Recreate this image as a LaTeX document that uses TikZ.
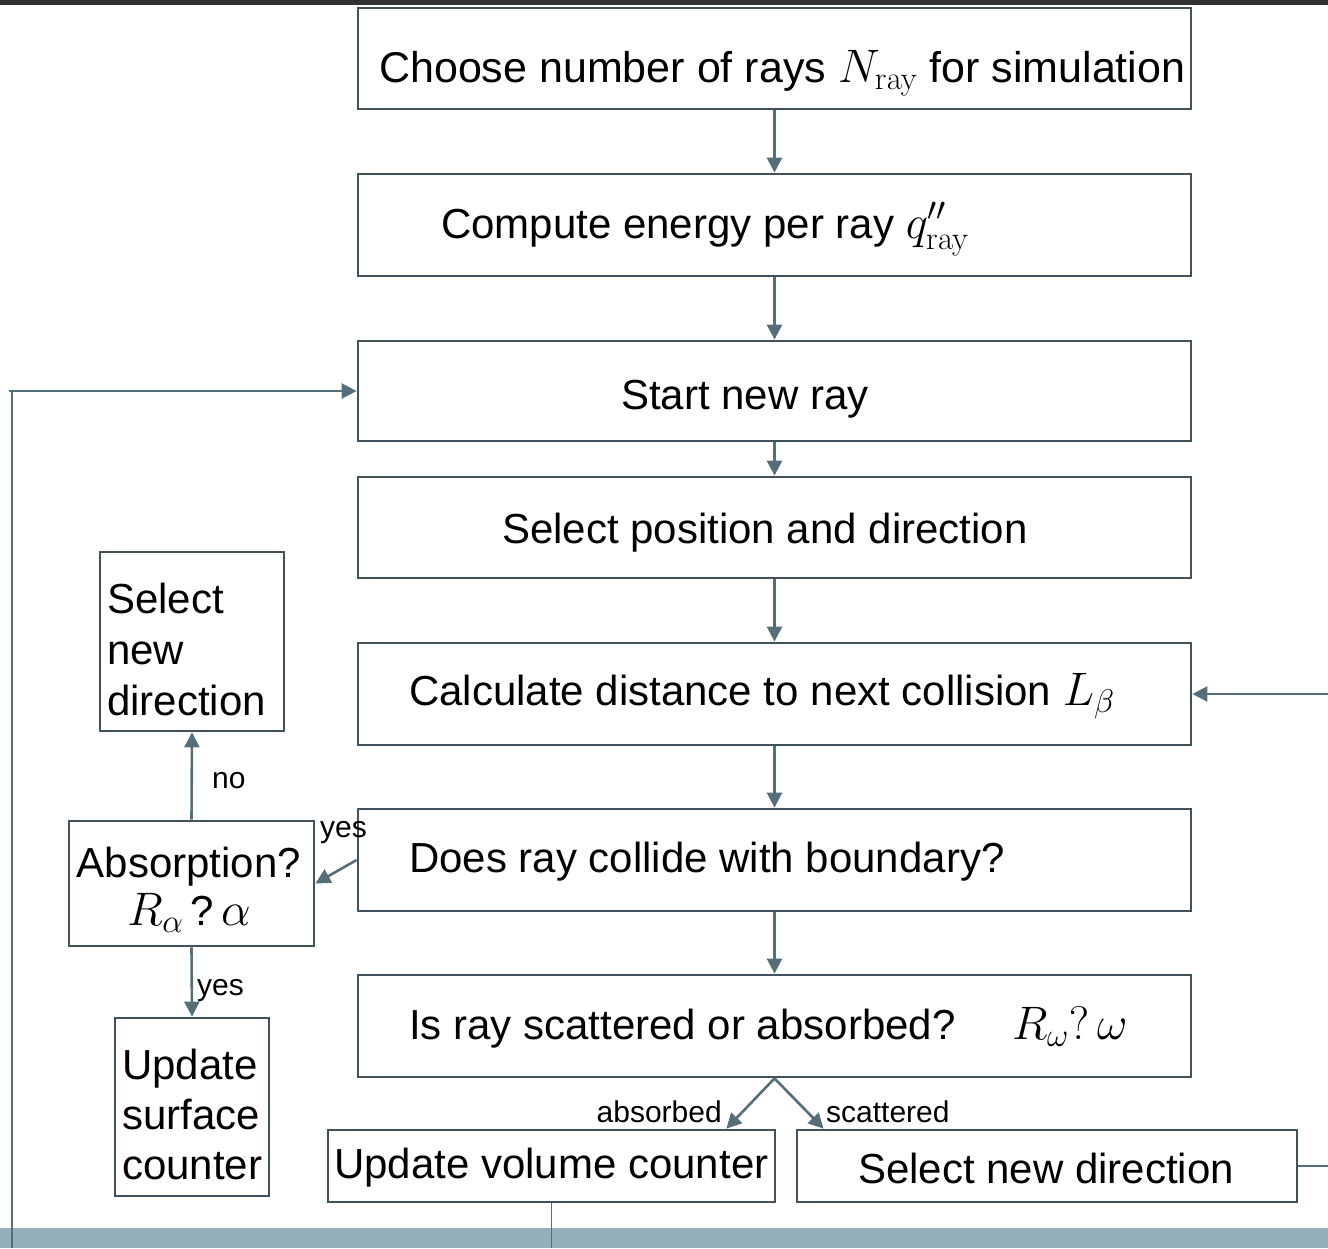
\RequirePackage{fix-cm}
\documentclass[tikz,border=0pt]{standalone}
\usepackage[no-math]{fontspec}
\setmainfont{Liberation Sans}
\usetikzlibrary{arrows.meta}
\definecolor{boxc}{RGB}{66,82,92}
\definecolor{arrc}{RGB}{84,110,122}
\definecolor{bandc}{RGB}{148,174,188}
\definecolor{topc}{RGB}{50,50,50}
\newcommand{\bigmath}[1]{{\fontsize{47}{51}\selectfont$#1$}}
\begin{document}
\begin{tikzpicture}[x=1pt,y=-1pt,
  box/.style={draw=boxc, line width=2.8pt, inner sep=0pt},
  txt/.style={anchor=base west, inner sep=0pt, font=\fontsize{42}{51}\selectfont},
  lbl/.style={anchor=base west, inner sep=0pt, font=\fontsize{30}{36}\selectfont},
  wire/.style={draw=arrc, line width=2.6pt},
  conn/.style={wire, -{Triangle[length=15pt,width=15pt]}},
  ]
\useasboundingbox (0,0) rectangle (1328,1248);
\fill[topc] (0,0) rectangle (1328,4.5);
\fill[bandc] (0,1228) rectangle (1328,1248);

% main column boxes
\node[box, minimum width=833pt, minimum height=101pt] (b1) at (774.5,58.5) {};
\node[box, minimum width=833pt, minimum height=102pt] (b2) at (774.5,225) {};
\node[box, minimum width=833pt, minimum height=100pt] (b3) at (774.5,391) {};
\node[box, minimum width=833pt, minimum height=101pt] (b4) at (774.5,527.5) {};
\node[box, minimum width=833pt, minimum height=102pt] (b5) at (774.5,694) {};
\node[box, minimum width=833pt, minimum height=102pt] (b6) at (774.5,860) {};
\node[box, minimum width=833pt, minimum height=102pt] (b7) at (774.5,1026) {};
\node[box, minimum width=447pt, minimum height=72pt] (b8) at (551.5,1166) {};
\node[box, minimum width=500pt, minimum height=72pt] (b9) at (1047,1166) {};
% left column boxes
\node[box, minimum width=184pt, minimum height=179pt] (b10) at (192,641.5) {};
\node[box, minimum width=245pt, minimum height=125pt] (b11) at (191.5,883.5) {};
\node[box, minimum width=154pt, minimum height=178pt] (b12) at (192,1107) {};

% texts
\node[txt, font=\fontsize{43}{51}\selectfont] at (379,82) {Choose number of rays \bigmath{N_{\mathrm{ray}}} for simulation};
\node[txt] at (441,238) {Compute energy per ray \bigmath{q''_{\mathrm{ray}}}};
\node[txt] at (621,409) {Start new ray};
\node[txt] at (502,543) {Select position and direction};
\node[txt] at (409,705) {Calculate distance to next collision \bigmath{L_\beta}};
\node[txt] at (409,872) {Does ray collide with boundary?};
\node[txt] at (409,1039) {\makebox[603pt][l]{Is ray scattered or absorbed?}\bigmath{R_\omega?\,\omega}};
\node[txt] at (334,1178) {Update volume counter};
\node[txt] at (858,1183) {Select new direction};
\node[txt, anchor=north west, align=left] at (107,583) {Select\\new\\direction};
\node[txt, anchor=north, align=center, font=\fontsize{42}{48}\selectfont] at (189,847) {Absorption?\\\bigmath{R_\alpha}\,?\,\bigmath{\alpha}};
\node[txt, anchor=north west, align=left, font=\fontsize{42}{50}\selectfont] at (122,1049) {Update\\surface\\counter};

% connectors
\draw[conn] (b1) -- (b2);
\draw[conn] (b2) -- (b3);
\draw[conn] (b3) -- (b4);
\draw[conn] (b4) -- (b5);
\draw[conn] (b5) -- (b6);
\draw[conn] (b6) -- (b7);
\draw[conn] (b7.south) -- ([xshift=-50pt]b8.north east);
\draw[conn] (b7.south) -- ([xshift=28pt]b9.north west);
\draw[conn] (b6.west) -- (b11.east);
\draw[conn] (b11.north) -- (b10.south);
\draw[conn] (b11.south) -- (b12.north);

\coordinate (rightout) at (1328,1166);
\coordinate (rightin) at (1328,694);
\draw[wire] (b9.east) -- (rightout);
\draw[conn] (rightin) -- (b5.east);

\coordinate (volout) at (551.5,1248);
\draw[wire, line width=1.5pt] (b8.south) -- (volout);

\coordinate (loopbot) at (12,1248);
\coordinate (loopcorner) at (12,391);
\draw[wire, line width=1.5pt] (loopbot) -- (loopcorner);
\draw[conn] ([xshift=-3pt]loopcorner) -- (b3.west);

% labels
\node[lbl] at (320,837) {yes};
\node[lbl] at (212,788) {no};
\node[lbl] at (197,995) {yes};
\node[lbl, anchor=base east] at (722,1122) {absorbed};
\node[lbl] at (826,1122) {scattered};
\end{tikzpicture}
\end{document}
